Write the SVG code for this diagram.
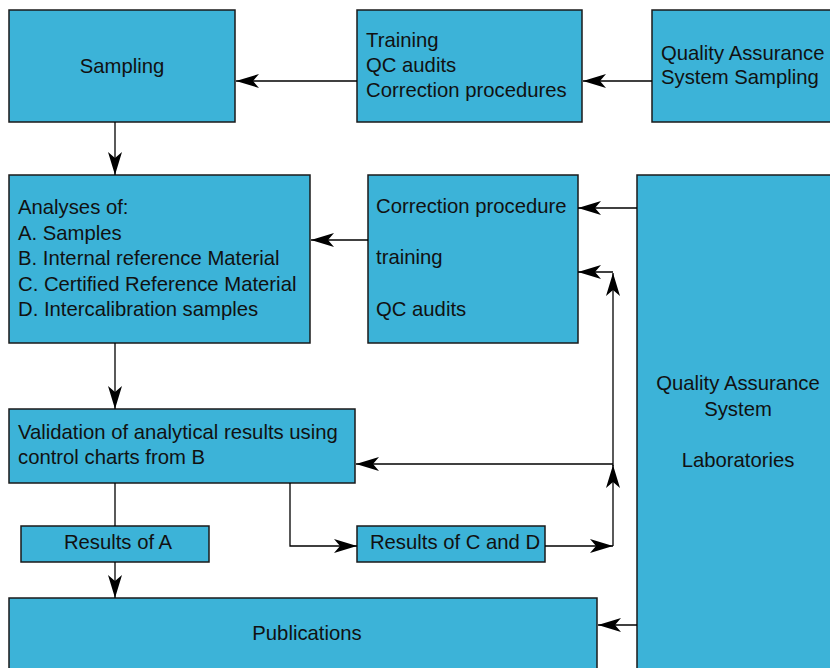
<svg xmlns="http://www.w3.org/2000/svg" width="830" height="668" viewBox="0 0 830 668">
<style>
.box{fill:#3cb3d8;stroke:#1a1a1a;stroke-width:1.5}
.t{font-family:"Liberation Sans",Arial,sans-serif;font-size:20.3px;fill:#111}
.c{text-anchor:middle}
.ln{fill:none;stroke:#000;stroke-width:1.3}
.a{marker-end:url(#ah)}
</style>
<defs>
<marker id="ah" markerUnits="userSpaceOnUse" markerWidth="24" markerHeight="16" viewBox="0 -8 24 16" refX="23" refY="0" orient="auto">
<path d="M0,-7 L23,0 L0,7 L6,0 Z" fill="#000"/>
</marker>
</defs>
<rect width="830" height="668" fill="#fff"/>
<g id="sampling"><rect class="box" x="9" y="10" width="226" height="112"/><text class="t c" x="122" y="73">Sampling</text></g>
<g id="training"><rect class="box" x="357" y="10" width="225" height="112"/><text class="t" x="366" y="46.5">Training</text><text class="t" x="366" y="72">QC audits</text><text class="t" x="366" y="97">Correction procedures</text></g>
<g id="qas-sampling"><rect class="box" x="652" y="10" width="190" height="112"/><text class="t" x="661" y="59.5">Quality Assurance</text><text class="t" x="661" y="84">System Sampling</text></g>
<g id="analyses"><rect class="box" x="9" y="175" width="301" height="168"/><text class="t" x="18" y="214">Analyses of:</text><text class="t" x="18" y="239.5">A. Samples</text><text class="t" x="18" y="265">B. Internal reference Material</text><text class="t" x="18" y="290.5">C. Certified Reference Material</text><text class="t" x="18" y="316">D. Intercalibration samples</text></g>
<g id="correction"><rect class="box" x="368" y="175" width="210" height="168"/><text class="t" x="376" y="213">Correction procedure</text><text class="t" x="376" y="264">training</text><text class="t" x="376" y="315.5">QC audits</text></g>
<g id="qas-labs"><rect class="box" x="637" y="175" width="202" height="510"/><text class="t c" x="738" y="390">Quality Assurance</text><text class="t c" x="738" y="415.5">System</text><text class="t c" x="738" y="467">Laboratories</text></g>
<g id="validation"><rect class="box" x="9" y="409" width="346" height="74"/><text class="t" x="18" y="438.5">Validation of analytical results using</text><text class="t" x="18" y="463.5">control charts from B</text></g>
<g id="results-a"><rect class="box" x="21" y="526" width="188" height="36"/><text class="t c" x="118" y="548.5">Results of A</text></g>
<g id="results-cd"><rect class="box" x="357" y="526" width="188" height="36"/><text class="t c" x="455" y="548.5">Results of C and D</text></g>
<g id="publications"><rect class="box" x="9" y="598" width="588" height="90"/><text class="t c" x="307" y="640">Publications</text></g>
<g id="connectors">
<path class="ln a" d="M357,81 H236"/>
<path class="ln a" d="M652,81 H583"/>
<path class="ln a" d="M115,122 V175"/>
<path class="ln a" d="M368,240 H311"/>
<path class="ln a" d="M637,208 H578"/>
<path class="ln a" d="M115,343 V409"/>
<path class="ln" d="M115,483 V526"/>
<path class="ln a" d="M115,562 V598"/>
<path class="ln a" d="M290,483 V546 H357"/>
<path class="ln a" d="M545,546 H613"/>
<path class="ln a" d="M613,546 V465"/>
<path class="ln a" d="M613,466 V273"/>
<path class="ln a" d="M613,272 H578"/>
<path class="ln a" d="M613,464 H356"/>
<path class="ln a" d="M637,625 H598"/>
</g>
</svg>
